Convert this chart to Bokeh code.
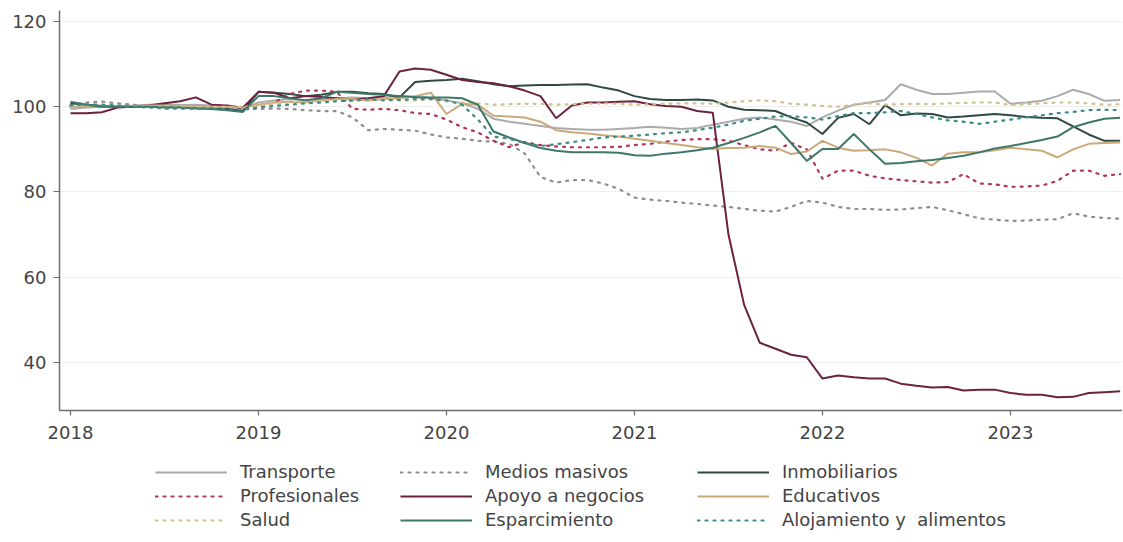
import pandas as pd
from bokeh.plotting import figure
from bokeh.layouts import column
from bokeh.models import Legend, LegendItem, FixedTicker, Range1d
from bokeh.embed import file_html
from bokeh.resources import INLINE

months = pd.date_range("2018-01-01", periods=68, freq="MS")
x = [d.year + (d.month - 1) / 12 for d in months]

transporte = [99.5, 99.8, 100, 100.2, 100.3, 100.5, 100.6, 100.4, 100.5, 100.3, 100, 99.6,
              101, 101.5, 101.8, 101.6, 101.8, 102, 102.2, 102, 102.3, 102.5, 102.2, 102,
              101.5, 100.8, 99.5, 97.2, 96.5, 96, 95.5, 95, 94.8, 94.6, 94.6, 94.8,
              95, 95.3, 95.1, 94.8, 95, 95.8, 96.5, 97.2, 97.5, 97, 96.5, 95.5,
              97.5, 99.1, 100.5, 101, 101.6, 105.3, 104, 103, 103, 103.3, 103.6, 103.6,
              100.7, 101, 101.4, 102.5, 104, 103, 101.4, 101.6]
medios = [100.5, 101, 101.2, 100.8, 100.5, 100, 99.5, 99.6, 99.8, 99.8, 100, 99.5,
          99.5, 99.6, 99.5, 99.2, 99, 99, 97.5, 94.5, 94.8, 94.6, 94.4, 93.5,
          92.8, 92.5, 92, 91.8, 91.3, 89, 83.5, 82.2, 82.8, 82.8, 82, 80.7,
          78.7, 78.2, 77.9, 77.5, 77.2, 76.8, 76.5, 76, 75.6, 75.4, 76.5, 77.9,
          77.5, 76.5, 76, 76, 75.8, 75.9, 76.2, 76.5, 75.7, 74.8, 73.8, 73.5,
          73.2, 73.3, 73.5, 73.6, 75, 74.2, 73.9, 73.7]
inmobiliarios = [100.8, 100.5, 100.2, 100, 100, 100.2, 100.3, 100, 99.8, 99.7, 99.5, 99,
                 103.5, 103.3, 103, 102.5, 102.8, 103.5, 103.5, 103.2, 103, 102.2, 105.8, 106.1,
                 106.3, 106.6, 106, 105.3, 104.8, 105, 105.1, 105.1, 105.2, 105.3, 104.5, 103.8,
                 102.5, 101.8, 101.6, 101.6, 101.7, 101.5, 100, 99.3, 99.2, 99, 97.5, 96.3,
                 93.6, 97.4, 98.3, 95.9, 100.4, 98, 98.4, 98.3, 97.5, 97.7, 98, 98.3,
                 98, 97.6, 97.4, 97.3, 95.4, 93.5, 92, 92]
profesionales = [100, 100, 100.2, 100, 100, 100.2, 100.3, 100, 100, 100, 99.8, 99.5,
                 100, 101, 103, 103.8, 103.8, 103.5, 99.5, 99.3, 99.5, 99.2, 98.5, 98.3,
                 97, 95.2, 94, 92, 90.5, 91.7, 91, 90.7, 90.5, 90.5, 90.5, 90.6,
                 91, 91.3, 91.8, 92.2, 92.4, 92.4, 92, 91, 90, 89.7, 91.5, 90,
                 83.1, 85, 85, 83.8, 83.2, 82.8, 82.5, 82.2, 82.3, 84.2, 82, 81.8,
                 81.2, 81.3, 81.5, 82.6, 85, 85, 83.8, 84.2]
apoyo = [98.5, 98.5, 98.7, 99.8, 100, 100.3, 100.8, 101.3, 102.2, 100.5, 100.3, 99.8,
         103.5, 103.3, 102, 102.5, 102.3, 102, 101.7, 102, 102.5, 108.3, 109, 108.7,
         107.5, 106.3, 105.8, 105.5, 104.8, 103.8, 102.5, 97.3, 100.3, 101, 101, 101.2,
         101.3, 100.6, 100.2, 100, 99, 98.6, 70, 53.5, 44.6, 43.2, 41.8, 41.2,
         36.2, 36.9, 36.5, 36.2, 36.2, 35, 34.5, 34.1, 34.2, 33.4, 33.6, 33.6,
         32.8, 32.4, 32.4, 31.8, 31.9, 32.8, 33, 33.2]
educativos = [100, 100, 100, 100.2, 100.2, 100.3, 100.3, 100.2, 100, 100, 100, 99.8,
              100.5, 101, 101.2, 101, 101.5, 101.8, 101.8, 101.5, 101.8, 102, 102.5, 103.3,
              98.3, 100.7, 100.5, 97.9, 97.7, 97.5, 96.5, 94.5, 94, 93.7, 93.3, 93,
              92.5, 92, 91.5, 91, 90.5, 90.1, 90.3, 90.4, 90.8, 90.4, 88.9, 89.5,
              92, 90.4, 89.7, 89.8, 90, 89.3, 88, 86.2, 89, 89.3, 89.3, 89.8,
              90.4, 90, 89.7, 88.1, 90, 91.3, 91.5, 91.6]
salud = [100, 100.2, 100.3, 100.2, 100, 100, 100.2, 100, 100, 100, 100, 100,
         100.3, 100.8, 101, 101.2, 101.5, 101.5, 101.3, 101.5, 101.8, 101.5, 101.5, 101.8,
         101.3, 101, 100.8, 100.5, 100.6, 100.7, 100.7, 100.5, 100.6, 100.7, 100.8, 100.7,
         100.5, 100.6, 100.7, 100.8, 100.8, 100.7, 101, 101.3, 101.5, 101.3, 100.7, 100.5,
         100.2, 100, 100.5, 100.8, 100.5, 100.6, 100.7, 100.6, 100.8, 100.9, 101, 101,
         100.4, 100.6, 100.8, 101, 101, 100.8, 100.5, 100.6]
esparcimiento = [101.2, 100.5, 100, 100, 100, 100, 99.8, 99.8, 99.6, 99.5, 99.2, 98.8,
                 102.5, 102.5, 102, 101.5, 102, 103.5, 103.3, 103, 102.8, 102.5, 102.3, 102.2,
                 102.2, 102, 100.5, 94.2, 92.8, 91.5, 90.3, 89.7, 89.3, 89.3, 89.3, 89.2,
                 88.6, 88.5, 89, 89.3, 89.8, 90.4, 91.5, 92.7, 94, 95.5, 91.5, 87.3,
                 90.1, 90.1, 93.6, 90, 86.6, 86.8, 87.2, 87.5, 88, 88.5, 89.3, 90.2,
                 90.8, 91.5, 92.2, 93, 95.2, 96.3, 97.2, 97.4]
alojamiento = [100.3, 100.5, 100.5, 100.3, 100, 99.8, 99.8, 99.6, 99.5, 99.5, 99.4, 99.3,
               99.8, 100.2, 100.5, 100.8, 101, 101.3, 101.5, 101.8, 101.5, 101.6, 101.8, 101.8,
               101.5, 100.5, 97, 93, 92.5, 91.5, 90.8, 91.2, 91.7, 92.2, 92.8, 93,
               93.2, 93.5, 93.8, 94, 94.5, 95.1, 95.8, 96.7, 97.2, 97.7, 97.8, 97.5,
               97, 97.8, 98.5, 98.5, 98.7, 99, 98.3, 97.5, 96.8, 96.5, 96, 96.5,
               97, 97.5, 98, 98.5, 98.8, 99.2, 99.3, 99.2]

year_ticks = [2018, 2019, 2020, 2021, 2022, 2023]
y_ticks = [40, 60, 80, 100, 120]

series = [
    ("Transporte", transporte, "#ababab", None),
    ("Medios masivos", medios, "#8e8e8e", "2 6"),
    ("Inmobiliarios", inmobiliarios, "#2f4a43", None),
    ("Profesionales", profesionales, "#b0355a", "2 6"),
    ("Apoyo a negocios", apoyo, "#6c2140", None),
    ("Educativos", educativos, "#caa978", None),
    ("Salud", salud, "#d3c08a", "2 6"),
    ("Esparcimiento", esparcimiento, "#3e7767", None),
    ("Alojamiento y  alimentos", alojamiento, "#3f8a82", "2 6"),
]

FONT = "DejaVu Sans"
TXT = "#444444"
W = 1122
X_RANGE = (2017.9415, 2023.596)

p = figure(width=W, height=452, output_backend="svg", toolbar_location=None,
           x_range=Range1d(*X_RANGE), y_range=Range1d(28.7, 122.6),
           min_border_left=59, min_border_top=10, min_border_bottom=42, min_border_right=0)
p.outline_line_color = None
p.xgrid.grid_line_color = None
p.ygrid.grid_line_color = "#eeeeee"
p.ygrid.grid_line_width = 1

for ax in (p.xaxis[0], p.yaxis[0]):
    ax.axis_line_color = "#6e6e6e"
    ax.axis_line_width = 1.5
    ax.major_tick_line_color = "#6e6e6e"
    ax.major_tick_line_width = 1.2
    ax.major_tick_in = 0
    ax.minor_tick_line_color = None
    ax.major_label_text_font = FONT
    ax.major_label_text_font_size = "18px"
    ax.major_label_text_color = TXT
p.xaxis.ticker = FixedTicker(ticks=year_ticks)
p.xaxis.major_tick_out = 5
p.xaxis.major_label_standoff = 10
p.yaxis.ticker = FixedTicker(ticks=y_ticks)
p.yaxis.major_tick_out = 6
p.yaxis.major_label_standoff = 7


def style(color, dash):
    kw = dict(line_color=color, line_width=2)
    if dash:
        kw.update(line_dash=dash, line_cap="round", line_width=2.2)
    return kw


for name, vals, color, dash in series:
    p.line(x, vals, **style(color, dash))

# legend panel below the chart (its frame is aligned with the chart frame)
leg_fig = figure(width=W, height=88, output_backend="svg", toolbar_location=None,
                 x_range=Range1d(0, 1), y_range=Range1d(0, 1),
                 x_axis_location=None, y_axis_location=None,
                 min_border_left=59, min_border_right=0,
                 min_border_top=0, min_border_bottom=0)
leg_fig.outline_line_color = None
leg_fig.xgrid.visible = False
leg_fig.ygrid.visible = False

keys = {}
for name, vals, color, dash in series:
    # same series, out of this panel's range: only their legend keys are seen
    keys[name] = leg_fig.line(x, vals, **style(color, dash))

columns = [["Transporte", "Profesionales", "Salud"],
           ["Medios masivos", "Apoyo a negocios", "Esparcimiento"],
           ["Inmobiliarios", "Educativos", "Alojamiento y  alimentos"]]
col_x = [96, 341, 638]
for cx, names in zip(col_x, columns):
    leg = Legend(items=[LegendItem(label=n, renderers=[keys[n]]) for n in names],
                 location=(cx, 10), orientation="vertical",
                 glyph_width=72, glyph_height=20, label_height=20, spacing=3,
                 label_standoff=13, padding=0, margin=0,
                 border_line_color=None, background_fill_alpha=0,
                 label_text_font=FONT, label_text_font_size="18px",
                 label_text_color=TXT)
    leg_fig.add_layout(leg, "center")

layout = column(p, leg_fig, spacing=0)
open("out.html", "w").write(file_html(layout, INLINE))
